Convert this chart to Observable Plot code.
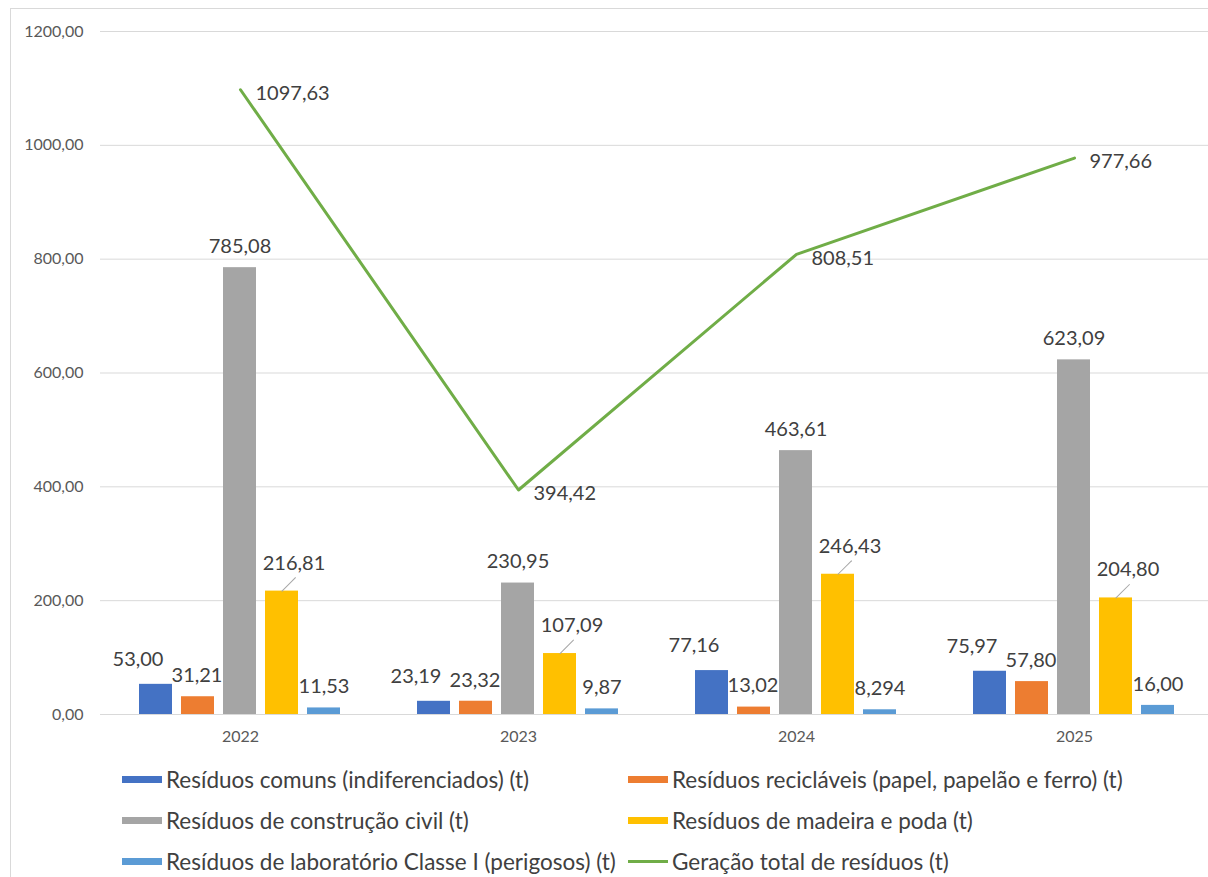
<!DOCTYPE html>
<html lang="pt">
<head>
<meta charset="utf-8">
<title>Geração de resíduos 2022–2025</title>
<script src="https://cdn.jsdelivr.net/npm/d3@7"></script>
<script src="https://cdn.jsdelivr.net/npm/@observablehq/plot@0.6"></script>
<style>
  body { margin: 0; width: 1208px; height: 877px; overflow: hidden; background: #fff; position: relative; font-family: Lato, "Open Sans", sans-serif; }
  #frame { position: absolute; left: 10px; top: 8px; width: 1400px; height: 1000px; border: 1px solid #d9d9d9; box-sizing: border-box; }
  .layer { position: absolute; left: 0; top: 0; }
  .item { position: absolute; display: flex; align-items: center; height: 41px; font-size: 22.5px; color: #404040; white-space: nowrap; }
  .sw { width: 40px; margin-right: 4px; flex: none; }
</style>
</head>
<body>
<div id="frame"></div>
<div id="base" class="layer"></div>
<div id="bars" class="layer"></div>
<div id="legend"></div>
<script>
// Categories (years) and series
const years = ["2022", "2023", "2024", "2025"];
const seriesKeys = ["comuns", "reciclaveis", "construcao", "madeira", "laboratorio"];
const seriesNames = [
  "Resíduos comuns (indiferenciados) (t)",
  "Resíduos recicláveis (papel, papelão e ferro) (t)",
  "Resíduos de construção civil (t)",
  "Resíduos de madeira e poda (t)",
  "Resíduos de laboratório Classe I (perigosos) (t)"
];
const totalName = "Geração total de resíduos (t)";

// Tonnes per year
const comuns = [53.00, 23.19, 77.16, 75.97];
const reciclaveis = [31.21, 23.32, 13.02, 57.80];
const construcao = [785.08, 230.95, 463.61, 623.09];
const madeira = [216.81, 107.09, 246.43, 204.80];
const laboratorio = [11.53, 9.87, 8.294, 16.00];
const total = [1097.63, 394.42, 808.51, 977.66];

// Value axis ticks
const yTicks = [0, 200, 400, 600, 800, 1000, 1200];

// Styling
const seriesColors = ["#4472c4", "#ed7d31", "#a5a5a5", "#ffc000", "#5b9bd5"];
const totalColor = "#70ad47";
const labelColor = "#404040";
const axisColor = "#595959";
const gridColor = "#d9d9d9";
// label offsets (px) per series: [dx, dy]
const labelNudge = {comuns: [-18, -25], reciclaveis: [-1, -21], construcao: [0, -21], madeira: [12, -28], laboratorio: [0, -21]};

// Tidy tables built from the arrays
const seriesValues = {comuns, reciclaveis, construcao, madeira, laboratorio};
const rows = years.flatMap((year, i) => seriesKeys.map(series => ({year, series, value: seriesValues[series][i]})));
const totalRows = years.map((year, i) => ({year, value: total[i]}));

// Decimal comma, at least two decimals (keeps extra precision such as 8,294)
const fmt = v => {
  const d = (String(v).split(".")[1] || "").length;
  return v.toFixed(Math.max(2, d)).replace(".", ",");
};
const fmtTick = v => v.toFixed(2).replace(".", ",");

const W = 1213, H = 750;
const margins = {marginTop: 31, marginBottom: 36, marginLeft: 100, marginRight: 0};
const svgStyle = {fontFamily: "Lato, 'Open Sans', sans-serif", fontSize: "16px", background: "transparent", maxWidth: "none", overflow: "visible"};

// Base layer: grid, axes and total line
const base = Plot.plot({
  width: W, height: H, ...margins,
  style: svgStyle,
  x: {domain: years, paddingInner: 0.2, paddingOuter: 0.1},
  y: {domain: [0, 1200]},
  marks: [
    Plot.gridY(yTicks, {stroke: gridColor, strokeOpacity: 1, strokeWidth: 1}),
    Plot.axisY(yTicks, {tickSize: 0, tickPadding: 17, tickFormat: fmtTick, fill: axisColor, label: null}),
    Plot.axisX({tickSize: 0, tickPadding: 16, fill: axisColor, label: null}),
    Plot.line(totalRows, {x: "year", y: "value", stroke: totalColor, strokeWidth: 3, strokeLinejoin: "round"}),
    Plot.text(totalRows, {x: "year", y: "value", text: d => fmt(d.value), textAnchor: "start", dx: 15, dy: 4, fontSize: 20, fill: labelColor})
  ]
});
document.getElementById("base").append(base);

// Leader line shape for moved labels
const leader = {draw(context, l) { context.moveTo(0, 0); context.lineTo(0, -l); }};

// Top layer: grouped bars with value labels
const bars = Plot.plot({
  width: W, height: H, ...margins,
  style: svgStyle,
  fx: {domain: years, paddingInner: 0.2, paddingOuter: 0.1, axis: null},
  x: {domain: seriesKeys, padding: 0.22, axis: null},
  y: {domain: [0, 1200], axis: null},
  color: {domain: seriesKeys, range: seriesColors},
  marks: [
    Plot.barY(rows, {fx: "year", x: "series", y: "value", fill: "series"}),
    Plot.vector(rows.filter(d => d.series === "madeira"), {
      fx: "year", x: "series", y: "value", length: 19, rotate: 45, anchor: "start",
      shape: leader, stroke: "#a6a6a6", strokeWidth: 1
    }),
    ...seriesKeys.map(k => Plot.text(rows.filter(d => d.series === k), {
      fx: "year", x: "series", y: "value", text: d => fmt(d.value),
      dx: labelNudge[k][0], dy: labelNudge[k][1], fontSize: 20, fill: labelColor
    }))
  ]
});
document.getElementById("bars").append(bars);

// Legend (two columns, row-major like the series order)
const legendItems = [
  ...seriesNames.map((name, i) => ({name, color: seriesColors[i], kind: "bar"})),
  {name: totalName, color: totalColor, kind: "line"}
];
const legend = document.getElementById("legend");
legendItems.forEach((item, i) => {
  const el = document.createElement("div");
  el.className = "item";
  el.style.left = (i % 2 === 0 ? 122 : 628) + "px";
  el.style.top = (759 + Math.floor(i / 2) * 41) + "px";
  const sw = document.createElement("span");
  sw.className = "sw";
  sw.style.background = item.color;
  sw.style.height = item.kind === "line" ? "3px" : "7px";
  const tx = document.createElement("span");
  tx.textContent = item.name;
  el.append(sw, tx);
  legend.append(el);
});
</script>
</body>
</html>
